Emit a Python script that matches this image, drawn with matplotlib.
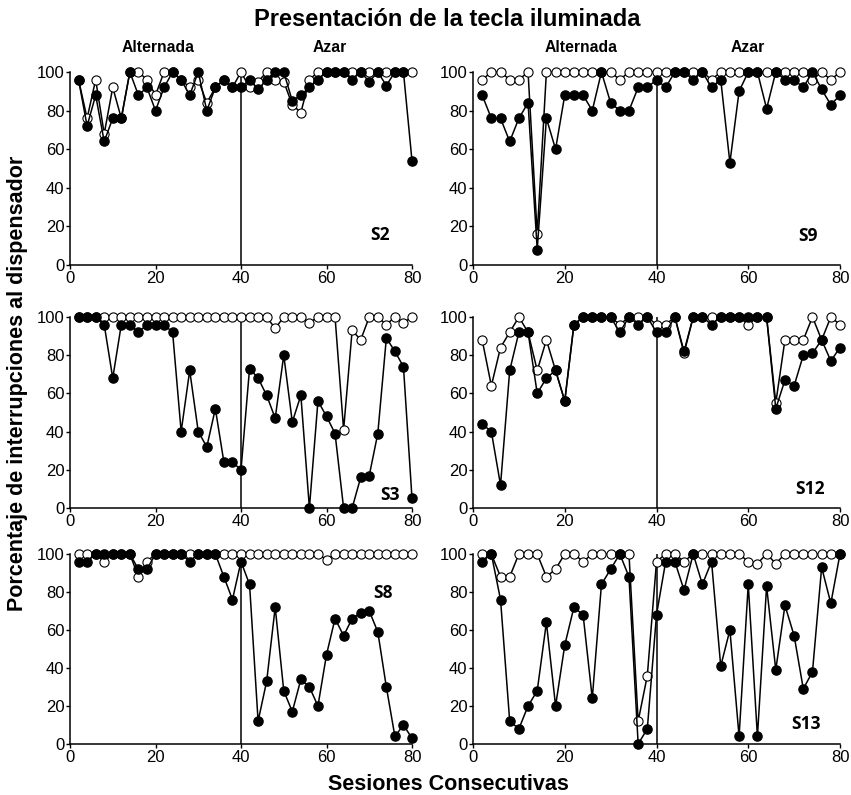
import numpy as np
import matplotlib
matplotlib.use("Agg")
import matplotlib.pyplot as plt

plt.rcParams['font.family'] = ['Liberation Sans', 'DejaVu Sans']

# sesiones 2, 4, ..., 80
sesiones = np.arange(2, 81, 2)

# filled = llenos, open = vacios
s2_fill = [96, 72, 88, 64, 76, 76, 100, 88, 92, 80, 92, 100, 96, 88, 100, 80, 92, 96, 92, 92,
           96, 91, 96, 100, 100, 85, 88, 92, 96, 100, 100, 100, 96, 100, 95, 100, 93, 100, 100, 54]
s2_open = [96, 76, 96, 68, 92, 76, 100, 100, 96, 88, 100, 100, 96, 92, 96, 84, 92, 96, 92, 100,
           92, 95, 100, 96, 95, 83, 79, 96, 100, 100, 100, 100, 100, 100, 100, 100, 100, 100, 100, 100]

s9_fill = [88, 76, 76, 64, 76, 84, 8, 76, 60, 88, 88, 88, 80, 100, 84, 80, 80, 92, 92, 96,
           92, 100, 100, 96, 100, 92, 96, 53, 90, 100, 100, 81, 100, 96, 96, 92, 100, 91, 83, 88]
s9_open = [96, 100, 100, 96, 96, 100, 16, 100, 100, 100, 100, 100, 100, 100, 100, 96, 100, 100, 100, 100,
           100, 100, 100, 100, 100, 96, 100, 100, 100, 100, 100, 100, 100, 100, 100, 100, 96, 100, 96, 100]

s3_fill = [100, 100, 100, 96, 68, 96, 96, 92, 96, 96, 96, 92, 40, 72, 40, 32, 52, 24, 24, 20,
           73, 68, 59, 47, 80, 45, 59, 0, 56, 48, 39, 0, 0, 16, 17, 39, 89, 82, 74, 5]
s3_open = [100, 100, 100, 100, 100, 100, 100, 100, 100, 100, 100, 100, 100, 100, 100, 100, 100, 100, 100, 100,
           100, 100, 100, 94, 100, 100, 100, 97, 100, 100, 100, 41, 93, 88, 100, 100, 96, 100, 97, 100]

s12_fill = [44, 40, 12, 72, 92, 92, 60, 68, 72, 56, 96, 100, 100, 100, 100, 92, 100, 96, 100, 92,
            92, 100, 82, 100, 100, 96, 100, 100, 100, 100, 100, 100, 52, 67, 64, 80, 81, 88, 77, 84]
s12_open = [88, 64, 84, 92, 100, 92, 72, 88, 72, 56, 96, 100, 100, 100, 100, 96, 100, 100, 100, 96,
            96, 100, 81, 100, 100, 100, 100, 100, 100, 96, 100, 100, 55, 88, 88, 88, 100, 88, 100, 96]

s8_fill = [96, 96, 100, 100, 100, 100, 100, 92, 92, 100, 100, 100, 100, 96, 100, 100, 100, 88, 76, 96,
           84, 12, 33, 72, 28, 17, 34, 30, 20, 47, 66, 57, 66, 69, 70, 59, 30, 4, 10, 3]
s8_open = [100, 100, 100, 96, 100, 100, 100, 88, 96, 100, 100, 100, 100, 100, 100, 100, 100, 100, 100, 100,
           100, 100, 100, 100, 100, 100, 100, 100, 100, 97, 100, 100, 100, 100, 100, 100, 100, 100, 100, 100]

s13_fill = [96, 100, 76, 12, 8, 20, 28, 64, 20, 52, 72, 68, 24, 84, 92, 100, 88, 0, 8, 68,
            96, 96, 81, 100, 84, 96, 41, 60, 4, 84, 4, 83, 39, 73, 57, 29, 38, 93, 74, 100]
s13_open = [100, 100, 88, 88, 100, 100, 100, 88, 92, 100, 100, 96, 100, 100, 100, 100, 100, 12, 36, 96,
            100, 100, 96, 100, 100, 100, 100, 100, 100, 96, 95, 100, 95, 100, 100, 100, 100, 100, 100, 100]

paneles = [
    ("S2", s2_fill, s2_open, (72.5, 15.5)),
    ("S9", s9_fill, s9_open, (73, 15)),
    ("S3", s3_fill, s3_open, (74.8, 6.8)),
    ("S12", s12_fill, s12_open, (73.4, 10)),
    ("S8", s8_fill, s8_open, (73.2, 79.5)),
    ("S13", s13_fill, s13_open, (72.6, 10.5)),
]

W, H = 851, 795
fig = plt.figure(figsize=(W / 100, H / 100), dpi=100)

# axes en pixeles: (x0, x1) por columna, (top, bottom) por fila
cols = [(70, 412), (473, 840)]
rows = [(72, 265), (317, 508), (554, 744)]

for i, (nombre, yf, yo, pos) in enumerate(paneles):
    x0, x1 = cols[i % 2]
    t, b = rows[i // 2]
    ax = fig.add_axes([x0 / W, 1 - b / H, (x1 - x0) / W, (b - t) / H])
    ax.plot(sesiones, yo, '-o', color='black', lw=1.1, ms=6.6, mfc='white', mec='black',
            mew=0.8, clip_on=False, zorder=3)
    ax.plot(sesiones, yf, '-o', color='black', lw=1.1, ms=6.6, mfc='black', mec='black',
            clip_on=False, zorder=4)
    ax.axvline(40, color='black', lw=1.1, zorder=2)
    ax.set_xlim(0, 80)
    ax.set_ylim(0, 100)
    ax.set_xticks([0, 20, 40, 60, 80])
    ax.set_yticks([0, 20, 40, 60, 80, 100])
    ax.spines['top'].set_visible(False)
    ax.spines['right'].set_visible(False)
    ax.spines['left'].set_linewidth(1.1)
    ax.spines['bottom'].set_linewidth(1.1)
    ax.tick_params(direction='out', length=3, width=1, labelsize=12, pad=1)
    ax.text(pos[0], pos[1], nombre, ha='center', va='center', fontsize=12.5,
            fontweight='bold', family=['Open Sans', 'DejaVu Sans'])

fig.text(0.525, 0.975, "Presentación de la tecla iluminada", ha='center', va='center',
         fontsize=17, fontweight='bold')
for xt, lab in [(158, "Alternada"), (330, "Azar"), (581, "Alternada"), (748, "Azar")]:
    fig.text(xt / W, 1 - 47 / H, lab, ha='center', va='center', fontsize=11.3, fontweight='bold')
fig.text(18 / W, 1 - 383 / H, "Porcentaje de interrupciones al dispensador", rotation=90,
         ha='center', va='center', fontsize=15.5, fontweight='bold')
fig.text(448 / W, 1 - 785 / H, "Sesiones Consecutivas", ha='center', va='center',
         fontsize=15.5, fontweight='bold')

fig.savefig("out.png", dpi=100)
